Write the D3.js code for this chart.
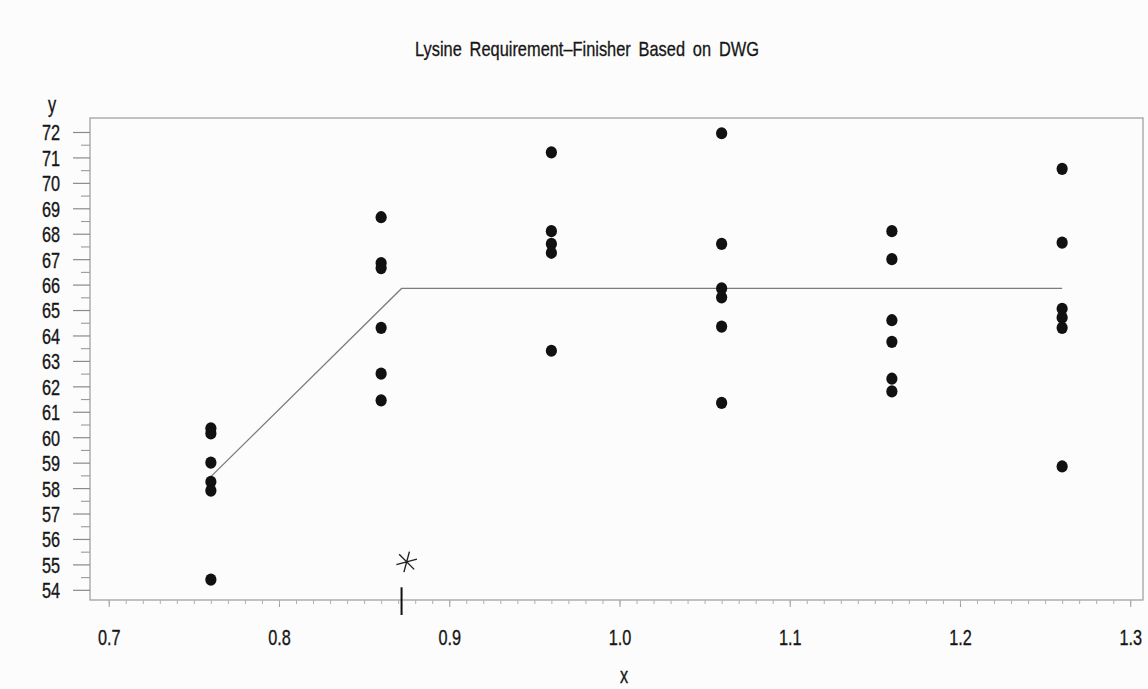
<!DOCTYPE html>
<html>
<head>
<meta charset="utf-8">
<script src="https://cdn.jsdelivr.net/npm/d3@7"></script>
<style>
  html, body { margin: 0; padding: 0; background: #fcfcfc; }
  svg { display: block; }
  text { font-family: "Liberation Sans", Arial, sans-serif; fill: #161616; }
</style>
</head>
<body>
<svg id="chart" width="1148" height="689"></svg>
<script>
// ---- data ----
const title = "Lysine Requirement\u2013Finisher Based on DWG";
const xLevels = [0.76, 0.86, 0.96, 1.06, 1.16, 1.26];
const y076 = [60.35, 60.15, 59.0, 58.25, 57.9, 54.4];
const y086 = [68.65, 66.85, 66.65, 64.3, 62.5, 61.45];
const y096 = [71.2, 68.1, 67.6, 67.25, 63.4];
const y106 = [71.95, 67.6, 65.85, 65.5, 64.35, 61.35];
const y116 = [68.1, 67.0, 64.6, 63.75, 62.3, 61.8];
const y126 = [70.55, 67.65, 65.05, 64.7, 64.3, 58.85];
const groups = [y076, y086, y096, y106, y116, y126];
// broken-line fit
const fitX = [0.76, 0.872, 1.26];
const fitY = [58.45, 65.85, 65.85];
// hand annotations
const breakX = [0.872];
const starPoint = [0.875, 55.1];
const yTicks = d3.range(54, 73, 1);
const yMinor = d3.range(54.5, 72, 1);
const xTicks = [0.7, 0.8, 0.9, 1.0, 1.1, 1.2, 1.3];
const xMinor = d3.range(70, 131, 1).map(d => d / 100);

// ---- layout ----
const svg = d3.select("#chart");
const L = 90, R = 1143, T = 118, B = 600;
const x = d3.scaleLinear().domain([0.689, 1.3075]).range([L, R]);
const y = d3.scaleLinear().domain([53.6, 72.55]).range([B, T]);
const SX = 0.74; // horizontal squeeze to mimic the condensed typeface
const FS = 22;

// frame
svg.append("rect").attr("x", L).attr("y", T).attr("width", R - L).attr("height", B - T)
  .attr("fill", "none").attr("stroke", "#9a9a9a").attr("stroke-width", 1.2);

// y axis
const yAx = svg.append("g").attr("transform", `translate(${L},0)`)
  .call(d3.axisLeft(y).tickValues(yTicks).tickSize(17).tickFormat(d3.format("d")));
yAx.select(".domain").remove();
yAx.selectAll("line").attr("stroke", "#8a8a8a").attr("stroke-width", 1.2);
yAx.selectAll("text").attr("x", 0).attr("dy", "0.36em")
  .attr("transform", `translate(-30,0) scale(${SX},1)`)
  .attr("font-size", FS).attr("fill", "#161616")
  .attr("stroke", "#161616").attr("stroke-width", 0.35);
const yAxm = svg.append("g").attr("transform", `translate(${L},0)`)
  .call(d3.axisLeft(y).tickValues(yMinor).tickSize(9).tickFormat(""));
yAxm.select(".domain").remove();
yAxm.selectAll("line").attr("stroke", "#9a9a9a").attr("stroke-width", 1.1);

// x axis
const xAx = svg.append("g").attr("transform", `translate(0,${B})`)
  .call(d3.axisBottom(x).tickValues(xTicks).tickSize(7).tickFormat(d3.format(".1f")));
xAx.select(".domain").remove();
xAx.selectAll("line").attr("stroke", "#9a9a9a");
xAx.selectAll("text").attr("y", 0).attr("dy", 0)
  .attr("transform", `translate(0,45) scale(${SX},1)`)
  .attr("font-size", FS).attr("fill", "#161616")
  .attr("stroke", "#161616").attr("stroke-width", 0.35);
const xAxm = svg.append("g").attr("transform", `translate(0,${B})`)
  .call(d3.axisBottom(x).tickValues(xMinor).tickSize(4).tickFormat(""));
xAxm.select(".domain").remove();
xAxm.selectAll("line").attr("stroke", "#b0b0b0");

// axis titles
svg.append("text").attr("text-anchor", "middle")
  .attr("transform", `translate(52,112) scale(${SX},1)`)
  .attr("font-size", FS).attr("stroke", "#161616").attr("stroke-width", 0.35).text("y");
svg.append("text").attr("text-anchor", "middle")
  .attr("transform", `translate(624,683) scale(${SX},1)`)
  .attr("font-size", FS).attr("stroke", "#161616").attr("stroke-width", 0.35).text("x");
svg.append("text").attr("text-anchor", "middle")
  .attr("transform", `translate(587,56) scale(0.82,1)`)
  .attr("font-size", 20).attr("word-spacing", 4)
  .attr("stroke", "#161616").attr("stroke-width", 0.3).text(title);

// fitted line
svg.append("path").datum(fitX.map((d, i) => [d, fitY[i]]))
  .attr("d", d3.line().x(d => x(d[0])).y(d => y(d[1])))
  .attr("fill", "none").attr("stroke", "#7c7c7c").attr("stroke-width", 1.3);

// points
const pts = [];
groups.forEach((g, i) => g.forEach(v => pts.push([xLevels[i], v])));
svg.append("g").selectAll("ellipse").data(pts).join("ellipse")
  .attr("cx", d => x(d[0])).attr("cy", d => y(d[1]))
  .attr("rx", 5.6).attr("ry", 6.1).attr("fill", "#111");

// annotations
svg.append("g").selectAll("line").data(breakX).join("line")
  .attr("x1", d => x(d)).attr("x2", d => x(d))
  .attr("y1", y(54.1)).attr("y2", B + 15)
  .attr("stroke", "#111").attr("stroke-width", 2);
svg.append("path")
  .attr("d", d3.symbol().type(d3.symbolAsterisk).size(320)())
  .attr("transform", `translate(${x(starPoint[0])},${y(starPoint[1])}) rotate(15)`)
  .attr("fill", "none").attr("stroke", "#222").attr("stroke-width", 1.4);
</script>
</body>
</html>
